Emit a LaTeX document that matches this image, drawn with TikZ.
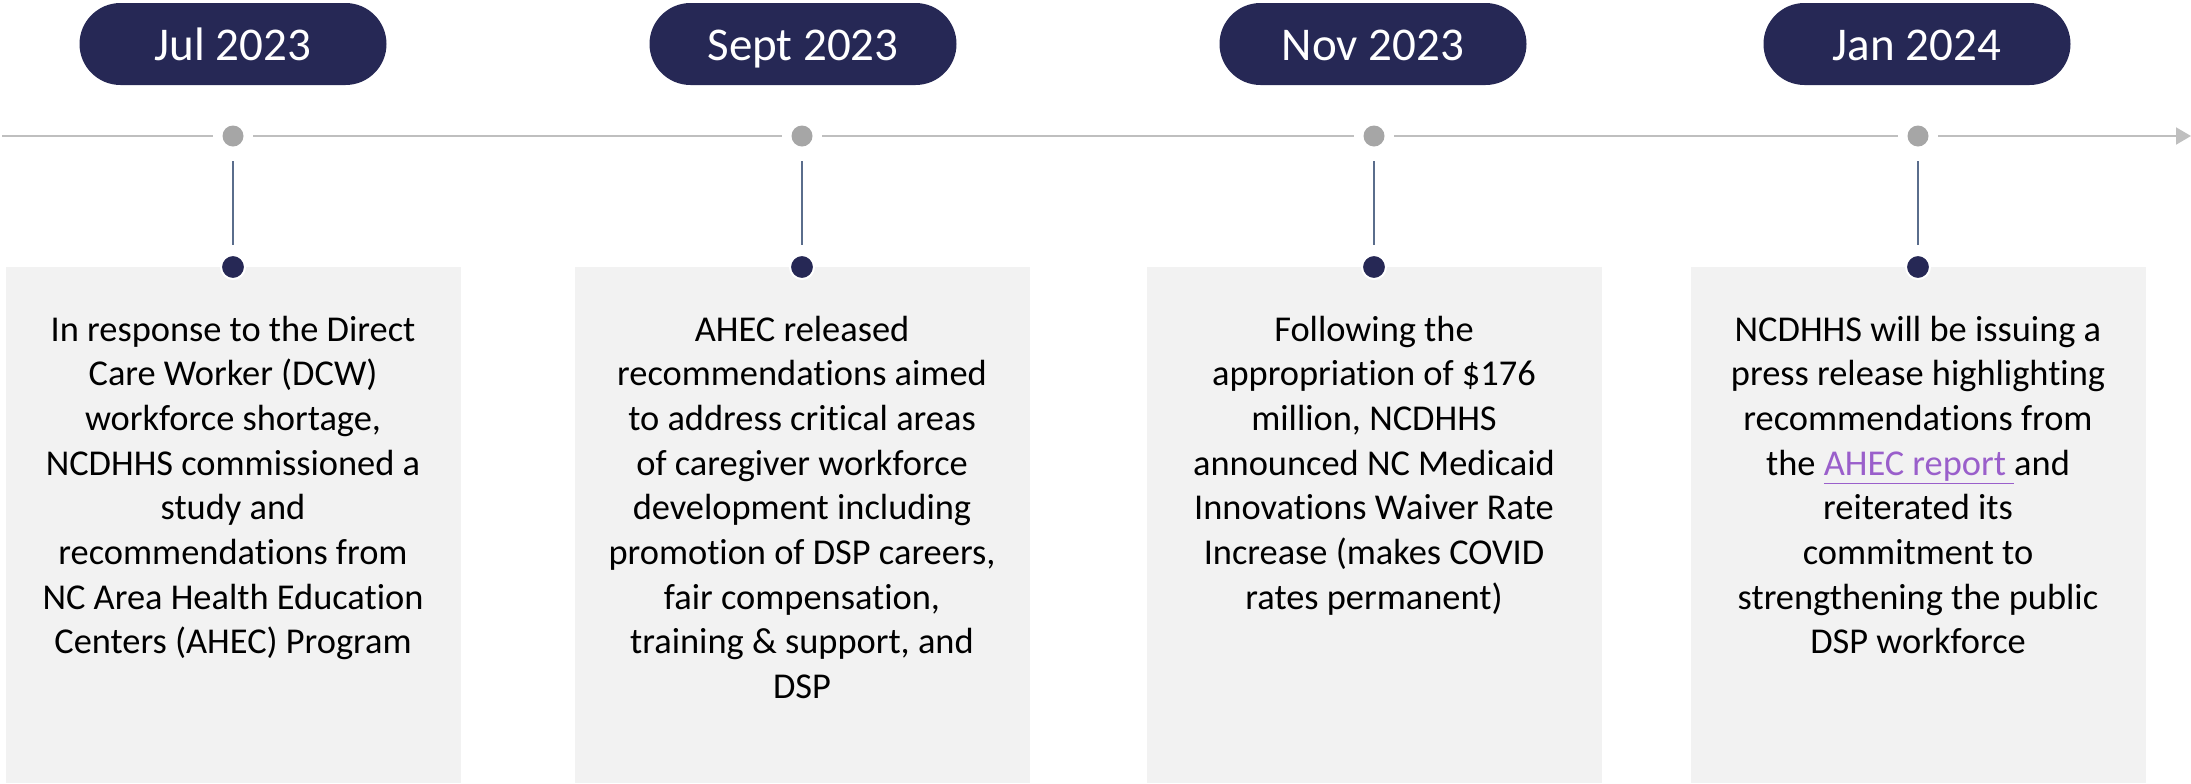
\documentclass[tikz,border=0pt]{standalone}
\usepackage{fontspec}
\setmainfont{Carlito}[Ligatures={NoCommon}]
\usetikzlibrary{arrows.meta}
\definecolor{navy}{HTML}{262855}
\definecolor{tlgray}{HTML}{BFBFBF}
\definecolor{dotgray}{HTML}{A6A6A6}
\definecolor{slate}{HTML}{5A6D8C}
\definecolor{boxfill}{HTML}{F2F2F2}
\definecolor{linkcol}{HTML}{9A5FCB}
\tikzset{
  x=0.5pt, y=-0.5pt,
  pill/.style={rectangle, rounded corners=20.5pt, fill=navy, text=white,
    minimum width=153.5pt, minimum height=41pt, inner sep=0pt,
    text height=21pt, text depth=5pt,
    font=\fontsize{23.5pt}{28pt}\selectfont},
  gdot/.style={circle, fill=dotgray, minimum size=10.5pt, inner sep=0pt, outer sep=4.75pt},
  ndot/.style={circle, fill=navy, draw=white, line width=1pt, minimum size=12pt, inner sep=0pt},
  card/.style={rectangle, fill=boxfill, minimum width=227.5pt, minimum height=258pt, inner sep=0pt, anchor=north},
  cardtext/.style={anchor=base, inner sep=0pt},
  tline/.style={draw=tlgray, line width=1pt},
  vline/.style={draw=slate, line width=0.75pt, shorten <=2.5pt, shorten >=4.5pt},
}
\newcommand{\cardbody}[1]{\parbox[t]{220pt}{\centering\fontsize{18.2pt}{22.35pt}\selectfont #1}}
\begin{document}
\begin{tikzpicture}
\useasboundingbox (0,0) rectangle (2191,783);
% cards
\node[card] (c1) at (233,267) {};
\node[card] (c2) at (802,267) {};
\node[card] (c3) at (1374,267) {};
\node[card] (c4) at (1918,267) {};
% pills
\node[pill] (p1) at (233,44) {Jul 2023};
\node[pill] (p2) at (803,44) {Sept 2023};
\node[pill] (p3) at (1373,44) {Nov 2023};
\node[pill] (p4) at (1917,44) {Jan 2024};
% timeline
\coordinate (tstart) at (2,136);
\coordinate (tend) at (2191,136);
\node[gdot] (g1) at (233,136) {};
\node[gdot] (g2) at (802,136) {};
\node[gdot] (g3) at (1374,136) {};
\node[gdot] (g4) at (1918,136) {};
\draw[tline] (tstart) -- (g1);
\draw[tline] (g1) -- (g2);
\draw[tline] (g2) -- (g3);
\draw[tline] (g3) -- (g4);
\draw[tline, -{Triangle[length=7.5pt,width=8.5pt]}] (g4) -- (tend);
% navy dots
\node[ndot] (n1) at (233,267) {};
\node[ndot] (n2) at (802,267) {};
\node[ndot] (n3) at (1374,267) {};
\node[ndot] (n4) at (1918,267) {};
\draw[vline] (g1) -- (n1);
\draw[vline] (g2) -- (n2);
\draw[vline] (g3) -- (n3);
\draw[vline] (g4) -- (n4);
% texts
\node[cardtext] (t1) at (233,341) {\cardbody{In response to the Direct\\ Care Worker (DCW)\\ workforce shortage,\\ NCDHHS commissioned a\\ study and\\ recommendations from\\ NC Area Health Education\\ Centers (AHEC) Program}};
\node[cardtext] (t2) at (802,341) {\cardbody{AHEC released\\ recommendations aimed\\ to address critical areas\\ of caregiver workforce\\ development including\\ promotion of DSP careers,\\ fair compensation,\\ training \& support, and\\ DSP}};
\node[cardtext] (t3) at (1374,341) {\cardbody{Following the\\ appropriation of \$176\\ million, NCDHHS\\ announced NC Medicaid\\ Innovations Waiver Rate\\ Increase (makes COVID\\ rates permanent)}};
\node[cardtext] (t4) at (1918,341) {\cardbody{NCDHHS will be issuing a\\ press release highlighting\\ recommendations from\\ the {\color{linkcol}\underline{AHEC report }}and\\ reiterated its\\ commitment to\\ strengthening the public\\ DSP workforce}};
\end{tikzpicture}
\end{document}
